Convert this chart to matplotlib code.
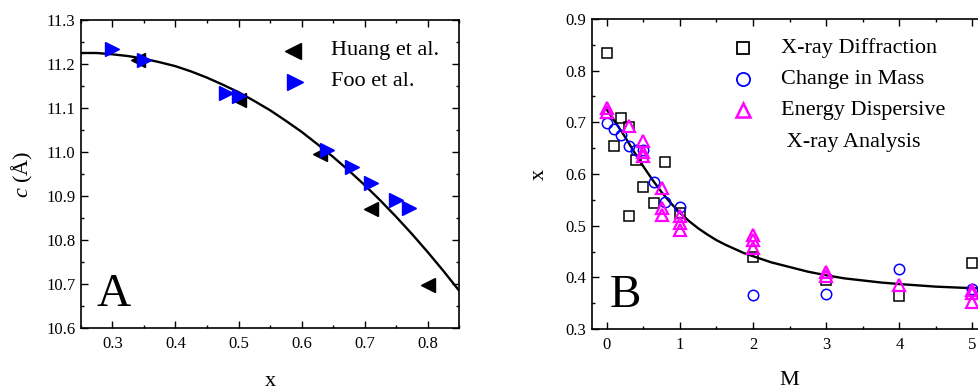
import numpy as np
import matplotlib
matplotlib.use("Agg")
import matplotlib.pyplot as plt
from matplotlib.ticker import MultipleLocator, FormatStrFormatter

plt.rcParams['font.family'] = ['Liberation Serif', 'DejaVu Serif']
plt.rcParams['mathtext.fontset'] = 'custom'
plt.rcParams['mathtext.rm'] = 'Liberation Serif'
plt.rcParams['mathtext.it'] = 'Liberation Serif:italic'

# ---- panel A data ----
huang_x = [0.34, 0.50, 0.63, 0.71, 0.80]
huang_c = [11.208, 11.118, 10.995, 10.870, 10.698]
foo_x = [0.30, 0.35, 0.48, 0.50, 0.64, 0.68, 0.71, 0.75, 0.77]
foo_c = [11.235, 11.210, 11.135, 11.128, 11.005, 10.965, 10.930, 10.890, 10.872]
fitA_x = [0.25, 0.275, 0.30, 0.325, 0.35, 0.375, 0.40, 0.425, 0.45, 0.475, 0.50,
          0.525, 0.55, 0.575, 0.60, 0.625, 0.65, 0.675, 0.70, 0.725, 0.75,
          0.775, 0.80, 0.825, 0.85]
fitA_c = [11.225, 11.225, 11.222, 11.218, 11.212, 11.204, 11.195, 11.183, 11.169,
          11.153, 11.136, 11.116, 11.095, 11.071, 11.046, 11.018, 10.989, 10.958,
          10.925, 10.890, 10.853, 10.814, 10.773, 10.730, 10.685]

# ---- panel B data ----
xrd_M = [0, 0.1, 0.2, 0.3, 0.3, 0.4, 0.5, 0.65, 0.8, 1.0, 2, 3, 4, 5]
xrd_x = [0.835, 0.654, 0.708, 0.690, 0.519, 0.628, 0.575, 0.544, 0.623, 0.525,
         0.439, 0.395, 0.364, 0.428]
mass_M = [0, 0.1, 0.2, 0.3, 0.4, 0.5, 0.65, 0.8, 1.0, 2, 3, 4, 5]
mass_x = [0.699, 0.687, 0.676, 0.655, 0.646, 0.647, 0.584, 0.546, 0.536,
          0.365, 0.367, 0.417, 0.377]
eds_M = [0, 0, 0.3, 0.5, 0.5, 0.5, 0.75, 0.75, 0.75, 1.0, 1.0, 1.0,
         2, 2, 2, 3, 3, 4, 5, 5, 5]
eds_x = [0.728, 0.720, 0.692, 0.663, 0.642, 0.634, 0.573, 0.534, 0.521,
         0.518, 0.506, 0.492, 0.482, 0.473, 0.457, 0.410, 0.402, 0.386,
         0.376, 0.370, 0.352]
fitB_M = [0, 0.125, 0.25, 0.375, 0.5, 0.625, 0.75, 0.875, 1.0, 1.125, 1.25, 1.375,
          1.5, 1.625, 1.75, 1.875, 2.0, 2.25, 2.5, 2.75, 3.0, 3.25, 3.5, 3.75,
          4.0, 4.5, 5.0, 5.2]
fitB_x = [0.725, 0.699, 0.672, 0.643, 0.615, 0.589, 0.565, 0.544, 0.525, 0.509,
          0.495, 0.483, 0.472, 0.463, 0.455, 0.447, 0.441, 0.429, 0.420, 0.411,
          0.404, 0.398, 0.394, 0.390, 0.387, 0.382, 0.379, 0.378]

fig = plt.figure(figsize=(9.79, 3.89), dpi=100)
axA = fig.add_axes([0.0827, 0.1568, 0.3862, 0.7918])
axB = fig.add_axes([0.6047, 0.1542, 0.4036, 0.797])


def style(ax):
    ax.tick_params(which='both', direction='in', top=True, right=True,
                   labelsize=12, width=1.0)
    ax.tick_params(which='major', length=5)
    ax.tick_params(which='minor', length=2.5)
    ax.tick_params(axis='x', pad=6)
    ax.tick_params(axis='y', pad=4)
    for s in ax.spines.values():
        s.set_linewidth(1.2)


# panel A
axA.plot(fitA_x, fitA_c, color='black', lw=1.7, zorder=2)
axA.plot(huang_x, huang_c, ls='none', marker='<', ms=9.5, color='black', zorder=3)
axA.plot(foo_x, foo_c, ls='none', marker='>', ms=9.5, color='#0000FF', zorder=4)
axA.set_xlim(0.25, 0.85)
axA.set_ylim(10.6, 11.3)
axA.xaxis.set_major_locator(MultipleLocator(0.1))
axA.xaxis.set_minor_locator(MultipleLocator(0.05))
axA.yaxis.set_major_locator(MultipleLocator(0.1))
axA.yaxis.set_minor_locator(MultipleLocator(0.05))
axA.xaxis.set_major_formatter(FormatStrFormatter('%.1f'))
axA.yaxis.set_major_formatter(FormatStrFormatter('%.1f'))
style(axA)
axA.set_xlabel('x', fontsize=16, labelpad=14)
axA.set_ylabel('$c$ (Å)', fontsize=16, labelpad=8)
axA.text(0.04, 0.07, 'A', transform=axA.transAxes, fontsize=34)
axA.plot([0.56], [0.90], transform=axA.transAxes, marker='<', ms=11,
         color='black', clip_on=False)
axA.text(0.66, 0.90, 'Huang et al.', transform=axA.transAxes, fontsize=16, va='center')
axA.plot([0.565], [0.80], transform=axA.transAxes, marker='>', ms=11,
         color='#0000FF', clip_on=False)
axA.text(0.66, 0.80, 'Foo et al.', transform=axA.transAxes, fontsize=16, va='center')

# panel B
axB.plot(fitB_M, fitB_x, color='black', lw=1.7, zorder=2)
axB.plot(xrd_M, xrd_x, ls='none', marker='s', ms=6.5, mfc='none', mec='black',
         mew=1.1, zorder=3)
axB.plot(mass_M, mass_x, ls='none', marker='o', ms=7.5, mfc='none', mec='#0000FF',
         mew=1.1, zorder=4)
axB.plot(eds_M, eds_x, ls='none', marker='^', ms=8, mfc='none', mec='#FF00FF',
         mew=1.6, zorder=5)
axB.set_xlim(-0.2, 5.2)
axB.set_ylim(0.3, 0.9)
axB.xaxis.set_major_locator(MultipleLocator(1))
axB.xaxis.set_minor_locator(MultipleLocator(0.5))
axB.yaxis.set_major_locator(MultipleLocator(0.1))
axB.yaxis.set_minor_locator(MultipleLocator(0.05))
axB.yaxis.set_major_formatter(FormatStrFormatter('%.1f'))
style(axB)
axB.set_xlabel('M', fontsize=16, labelpad=13)
axB.set_ylabel('x', fontsize=16, labelpad=12)
axB.text(0.045, 0.07, 'B', transform=axB.transAxes, fontsize=34)
legB = [('s', 'black', 8.5, 1.3, 'X-ray Diffraction'),
        ('o', '#0000FF', 9.5, 1.3, 'Change in Mass'),
        ('^', '#FF00FF', 10, 1.8, 'Energy Dispersive')]
for i, (m, c, ms, mew, lab) in enumerate(legB):
    fy = 0.906 - 0.1 * i
    axB.plot([0.382], [fy], transform=axB.transAxes, marker=m, ms=ms, mfc='none',
             mec=c, mew=mew, clip_on=False)
    axB.text(0.478, fy, lab, transform=axB.transAxes, fontsize=16, va='center')
axB.text(0.478, 0.603, ' X-ray Analysis', transform=axB.transAxes, fontsize=16,
         va='center')

fig.savefig('out.png', dpi=100)
